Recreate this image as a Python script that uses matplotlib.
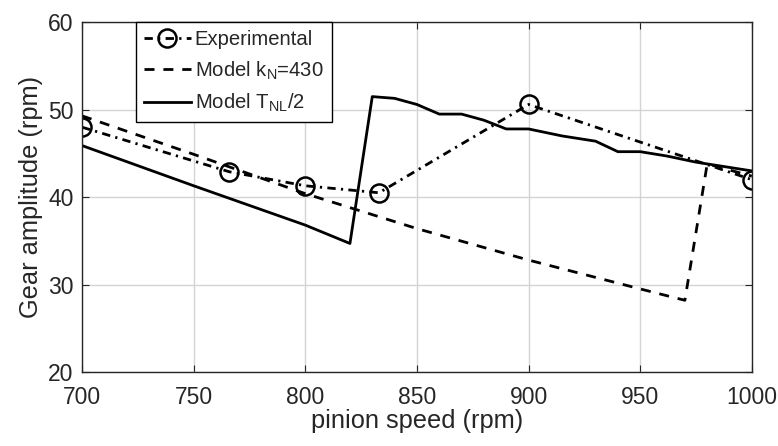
import matplotlib
matplotlib.use('Agg')
import matplotlib.pyplot as plt
from matplotlib.ticker import MultipleLocator

plt.rcParams.update({
    "font.family": ['Liberation Sans', 'DejaVu Sans'],
    "mathtext.fontset": "custom",
    "mathtext.rm": "Liberation Sans",
    "mathtext.it": "Liberation Sans",
})

# experimental points
exp_speed = [700, 766, 800, 833, 900, 1000]
exp_amp = [48.0, 42.9, 41.3, 40.5, 50.6, 42.0]

# model k_N = 430
kn_speed = [700, 750, 800, 850, 900, 950, 970, 980, 1000]
kn_amp = [49.3, 44.9, 40.4, 36.4, 32.8, 29.5, 28.2, 43.8, 42.4]

# model T_NL/2
tnl_speed = [700, 750, 800, 820, 830, 840, 850, 860, 870, 880, 890, 900,
             915, 930, 940, 950, 962, 975, 1000]
tnl_amp = [45.9, 41.3, 36.8, 34.7, 51.5, 51.3, 50.6, 49.5, 49.5, 48.8, 47.8, 47.8,
           47.0, 46.4, 45.2, 45.2, 44.7, 44.0, 43.0]

txt = '#262626'
lw = 2.0

fig = plt.figure(figsize=(7.78, 4.46), dpi=100)
ax = fig.add_axes([0.1054, 0.166, 0.861, 0.784])

ax.plot(exp_speed, exp_amp, 'o-.', color='black', linewidth=lw,
        markersize=13, markerfacecolor='none', markeredgewidth=1.8,
        dashes=[3.0, 1.9, 0.8, 1.9], label='Experimental')
ax.plot(kn_speed, kn_amp, '--', color='black', linewidth=lw,
        dashes=[3.6, 3.2], label=r'Model k$_\mathregular{N}$=430')
ax.plot(tnl_speed, tnl_amp, '-', color='black', linewidth=lw,
        label=r'Model T$_\mathregular{NL}$/2')

ax.set_xlim(700, 1000)
ax.set_ylim(20, 60)
ax.xaxis.set_major_locator(MultipleLocator(50))
ax.yaxis.set_major_locator(MultipleLocator(10))
ax.grid(True, color='#d4d4d4', linewidth=1.0)
ax.set_axisbelow(True)
ax.tick_params(direction='in', length=5, width=0.8, top=True, right=True,
               labelsize=16.5, colors=txt, pad=6)
ax.tick_params(axis='x', pad=10)
for s in ax.spines.values():
    s.set_color(txt)
    s.set_linewidth(1.0)

ax.set_xlabel('pinion speed (rpm)', fontsize=18.3, color=txt, labelpad=0)
ax.set_ylabel('Gear amplitude (rpm)', fontsize=18.3, color=txt, labelpad=4)

leg = ax.legend(loc='upper left', bbox_to_anchor=(0.0806, 1.0), borderaxespad=0,
                fontsize=14.6, handlelength=2.3, handletextpad=0.2,
                labelspacing=0.5, borderpad=0.4, fancybox=False, framealpha=1,
                edgecolor='black')
leg.get_frame().set_linewidth(1.0)
for t in leg.get_texts():
    t.set_color(txt)

fig.savefig('out.png', dpi=100)
